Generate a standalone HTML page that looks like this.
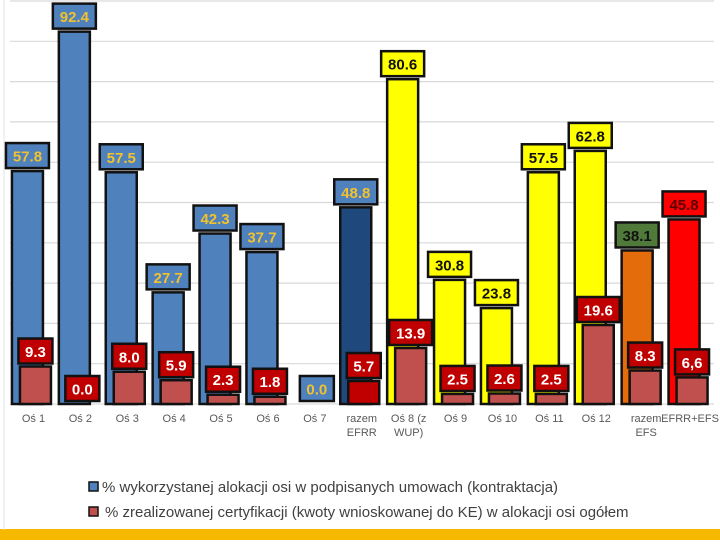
<!DOCTYPE html>
<html><head><meta charset="utf-8"><style>
body{margin:0;background:#fff;width:720px;height:540px;overflow:hidden;font-family:"Liberation Sans",sans-serif}
</style></head><body>
<svg id="chart" width="720" height="540" xmlns="http://www.w3.org/2000/svg">
<rect x="0" y="0" width="720" height="540" fill="#fff"/>
<g id="grid"></g><g id="bars"></g><g id="labels"></g><g id="xlabels"></g>
<g>
<rect x="89" y="482" width="9" height="9" fill="#4f81bd" stroke="#111" stroke-width="1.5"/>
<text x="102" y="492" font-size="15" fill="#404040">% wykorzystanej alokacji osi w podpisanych umowach (kontraktacja)</text>
<rect x="89" y="507" width="9" height="9" fill="#c0504d" stroke="#111" stroke-width="1.5"/>
<text x="105" y="517" font-size="15" fill="#404040">% zrealizowanej certyfikacji (kwoty wnioskowanej do KE) w alokacji osi ogółem</text>
</g>
<rect x="0" y="529" width="720" height="11" fill="#f6b900"/>
<line x1="4" y1="0" x2="4" y2="530" stroke="#e6e6e6" stroke-width="1"/>
</svg>
<script>
const categories=["Oś 1","Oś 2","Oś 3","Oś 4","Oś 5","Oś 6","Oś 7","razem|EFRR","Oś 8 (z|WUP)","Oś 9","Oś 10","Oś 11","Oś 12","razem|EFS","EFRR+EFS"];
const contractValues=[57.8,92.4,57.5,27.7,42.3,37.7,0,48.8,80.6,30.8,23.8,57.5,62.8,38.1,45.8];
const certValues=[9.3,0.0,8.0,5.9,2.3,1.8,0.0,5.7,13.9,2.5,2.6,2.5,19.6,8.3,6.6];
const contractLabels=["57.8","92.4","57.5","27.7","42.3","37.7","","48.8","80.6","30.8","23.8","57.5","62.8","38.1","45.8"];
const certLabels=["9.3","0.0","8.0","5.9","2.3","1.8","0.0","5.7","13.9","2.5","2.6","2.5","19.6","8.3","6,6"];
const gridTicks=[0,10,20,30,40,50,60,70,80,90,100];

const NS="http://www.w3.org/2000/svg";
const base=404, scale=4.03, x0=10, cw=46.9;
function y(v){return base-v*scale;}
function cx(i){return x0+cw*(i+0.5);}
function mk(tag,attrs,parent){const e=document.createElementNS(NS,tag);for(const k in attrs)e.setAttribute(k,attrs[k]);parent.appendChild(e);return e;}
const barFill=i=>i<7?"#4f81bd":i===7?"#1f497d":i<13?"#ffff00":i===13?"#e46c0a":"#ff0000";
const lblBox=i=>i<8?"#4f81bd":i<13?"#ffff00":i===13?"#4f7a3a":"#ff0000";
const lblTxt=i=>i<8?"#f2c12e":i<13?"#111":i===13?"#111":"#5a0000";
const gG=document.getElementById("grid"),gB=document.getElementById("bars"),gL=document.getElementById("labels"),gX=document.getElementById("xlabels");
gridTicks.forEach(t=>{const l=mk("line",{x1:10,x2:714,y1:y(t),y2:y(t),stroke:"#d9d9d9","stroke-width":1.2},gG);

});
function label(txt,xc,bottom,fill,col,parent,nm){
 const w=txt.length*9+7;
 const r=mk("rect",{x:xc-w/2,y:bottom-25,width:w,height:25,fill:fill,stroke:"#111","stroke-width":2.5},parent);
 
 
 const t=mk("text",{x:xc,y:bottom-6.5,"text-anchor":"middle","font-size":15,"font-weight":"bold",fill:col},parent);
 
 
 t.textContent=txt;}
categories.forEach((c,i)=>{
 const c0=cx(i);
 const bv=contractValues[i];
 if(bv>0){const b=mk("rect",{x:c0-21.5,y:y(bv),width:31,height:bv*scale,fill:barFill(i),stroke:"#111","stroke-width":2.5},gB);
 
 }
 const rv=certValues[i];
 if(rv>0){const r=mk("rect",{x:c0-13.5,y:y(rv),width:31,height:rv*scale,fill:i===7?"#c00000":"#c0504d",stroke:"#111","stroke-width":2.5},gB);
 
 }
 if(contractLabels[i])label(contractLabels[i],c0-6,y(bv)-3,lblBox(i),lblTxt(i),gL,'contract-value-label');
 if(i===6)label(certLabels[i],c0+2,y(rv)-3,"#4f81bd","#f2c12e",gL,'cert-value-label');
 else label(certLabels[i],c0+2,y(rv)-3,"#c00000","#fff",gL,'cert-value-label');
 const parts=c.split("|");
 parts.forEach((p,k)=>{const t=mk("text",{x:c0+(i===13?3:0),y:422+k*14,"text-anchor":"middle","font-size":11,fill:"#595959"},gX);
 
 
 t.textContent=p;});
});
</script>
</body></html>
